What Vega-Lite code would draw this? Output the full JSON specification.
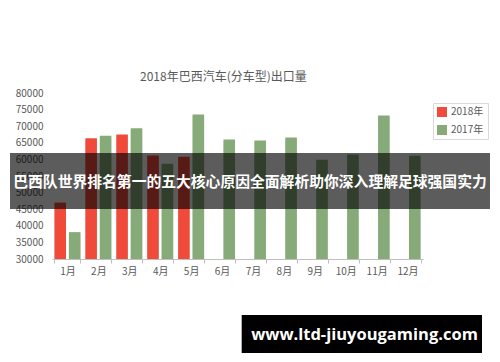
{
  "$schema": "https://vega.github.io/schema/vega-lite/v6.json",
  "width": 371,
  "height": 166,
  "autosize": {"type": "none"},
  "padding": {"left": 52, "top": 93, "right": 77, "bottom": 103},
  "background": "#ffffff",
  "title": {
    "text": "2018年巴西汽车(分车型)出口量",
    "anchor": "start",
    "frame": "group",
    "dx": 88,
    "offset": 4,
    "font": "Noto Sans CJK SC",
    "fontSize": 12,
    "fontWeight": "normal",
    "color": "#595959"
  },
  "config": {
    "view": {"stroke": null},
    "font": "Noto Sans CJK SC"
  },
  "datasets": {
    "exports": [
      {"month": "1月", "year": "2018年", "value": 47000},
      {"month": "2月", "year": "2018年", "value": 66400},
      {"month": "3月", "year": "2018年", "value": 67500},
      {"month": "4月", "year": "2018年", "value": 61200},
      {"month": "5月", "year": "2018年", "value": 60800},
      {"month": "1月", "year": "2017年", "value": 38100},
      {"month": "2月", "year": "2017年", "value": 67100},
      {"month": "3月", "year": "2017年", "value": 69400},
      {"month": "4月", "year": "2017年", "value": 58700},
      {"month": "5月", "year": "2017年", "value": 73500},
      {"month": "6月", "year": "2017年", "value": 66000},
      {"month": "7月", "year": "2017年", "value": 65700},
      {"month": "8月", "year": "2017年", "value": 66600},
      {"month": "9月", "year": "2017年", "value": 59900},
      {"month": "10月", "year": "2017年", "value": 61500},
      {"month": "11月", "year": "2017年", "value": 73200},
      {"month": "12月", "year": "2017年", "value": 61100}
    ],
    "banner": [
      {"x0": -0.1132, "x1": 1.1806, "y0": 0.3012, "y1": 0.6386, "tx": 0.5337, "ty": 0.4578, "label": "巴西队世界排名第一的五大核心原因全面解析助你深入理解足球强国实力"}
    ],
    "mark": [
      {"x0": 0.5113, "x1": 1.159, "y0": -0.5663, "y1": -0.3373, "tx": 0.8423, "ty": -0.4578, "label": "www.ltd-jiuyougaming.com"}
    ]
  },
  "layer": [
    {
      "data": {"name": "exports"},
      "mark": {"type": "bar", "color": "#000000", "opacity": 0.18, "xOffset": 2.5, "yOffset": 1.5},
      "encoding": {
        "x": {
          "field": "month",
          "type": "ordinal",
          "sort": ["1月","2月","3月","4月","5月","6月","7月","8月","9月","10月","11月","12月"],
          "scale": {"paddingInner": 0.16, "paddingOuter": 0.08},
          "axis": null
        },
        "xOffset": {
          "field": "year",
          "type": "nominal",
          "sort": ["2018年", "2017年"],
          "scale": {"domain": ["2018年", "2017年"], "paddingInner": 0.2}
        },
        "y": {
          "field": "value",
          "type": "quantitative",
          "scale": {"domain": [30000, 80000], "zero": false, "nice": false},
          "axis": null
        },
        "y2": {"datum": 30000}
      }
    },
    {
      "data": {"name": "exports"},
      "mark": {"type": "bar"},
      "encoding": {
        "x": {
          "field": "month",
          "type": "ordinal",
          "sort": ["1月","2月","3月","4月","5月","6月","7月","8月","9月","10月","11月","12月"],
          "scale": {"paddingInner": 0.16, "paddingOuter": 0.08},
          "axis": {
            "title": null,
            "labelAngle": 0,
            "labelFontSize": 10,
            "labelColor": "#595959",
            "labelFont": "Noto Sans CJK SC",
            "domainColor": "#bfbfbf",
            "tickColor": "#bfbfbf",
            "tickBand": "extent",
            "tickSize": 4,
            "labelPadding": 3,
            "grid": false
          }
        },
        "xOffset": {
          "field": "year",
          "type": "nominal",
          "sort": ["2018年", "2017年"],
          "scale": {"domain": ["2018年", "2017年"], "paddingInner": 0.2}
        },
        "y": {
          "field": "value",
          "type": "quantitative",
          "scale": {"domain": [30000, 80000], "zero": false, "nice": false},
          "axis": {
            "title": null,
            "values": [30000,35000,40000,45000,50000,55000,60000,65000,70000,75000,80000],
            "labelFontSize": 10,
            "labelColor": "#595959",
            "labelFont": "Noto Sans CJK SC",
            "labelPadding": 9,
            "domain": false,
            "ticks": false,
            "gridColor": "#d9d9d9",
            "format": "d"
          }
        },
        "y2": {"datum": 30000},
        "color": {
          "field": "year",
          "type": "nominal",
          "scale": {"domain": ["2018年", "2017年"], "range": ["#f04a3a", "#86ab78"]},
          "legend": {
            "title": null,
            "orient": "none",
            "legendX": 381,
            "legendY": 10,
            "symbolType": "square",
            "symbolSize": 100,
            "symbolStrokeWidth": 0,
            "labelFontSize": 10,
            "labelColor": "#595959",
            "labelFont": "Noto Sans CJK SC",
            "rowPadding": 8,
            "strokeColor": "#d9d9d9",
            "padding": 4
          }
        }
      }
    },
    {
      "data": {"name": "banner"},
      "mark": {"type": "rect", "fill": "#000000", "opacity": 0.64},
      "encoding": {
        "x": {"field": "x0", "type": "quantitative", "scale": {"domain": [0, 1]}, "axis": null},
        "x2": {"field": "x1"},
        "y": {"field": "y0", "type": "quantitative", "scale": {"domain": [0, 1]}, "axis": null},
        "y2": {"field": "y1"}
      }
    },
    {
      "data": {"name": "banner"},
      "mark": {"type": "text", "color": "#ffffff", "fontWeight": "bold", "fontSize": 14.8, "font": "Noto Sans CJK SC", "align": "center", "baseline": "middle"},
      "encoding": {
        "x": {"field": "tx", "type": "quantitative", "scale": {"domain": [0, 1]}, "axis": null},
        "y": {"field": "ty", "type": "quantitative", "scale": {"domain": [0, 1]}, "axis": null},
        "text": {"field": "label"}
      }
    },
    {
      "data": {"name": "mark"},
      "mark": {"type": "rect", "fill": "#000000"},
      "encoding": {
        "x": {"field": "x0", "type": "quantitative", "scale": {"domain": [0, 1]}, "axis": null},
        "x2": {"field": "x1"},
        "y": {"field": "y0", "type": "quantitative", "scale": {"domain": [0, 1]}, "axis": null},
        "y2": {"field": "y1"}
      }
    },
    {
      "data": {"name": "mark"},
      "mark": {"type": "text", "color": "#ffffff", "fontWeight": "bold", "fontSize": 16.5, "font": "Open Sans", "align": "center", "baseline": "middle"},
      "encoding": {
        "x": {"field": "tx", "type": "quantitative", "scale": {"domain": [0, 1]}, "axis": null},
        "y": {"field": "ty", "type": "quantitative", "scale": {"domain": [0, 1]}, "axis": null},
        "text": {"field": "label"}
      }
    }
  ],
  "resolve": {"scale": {"x": "independent", "y": "independent", "color": "independent"}}
}
